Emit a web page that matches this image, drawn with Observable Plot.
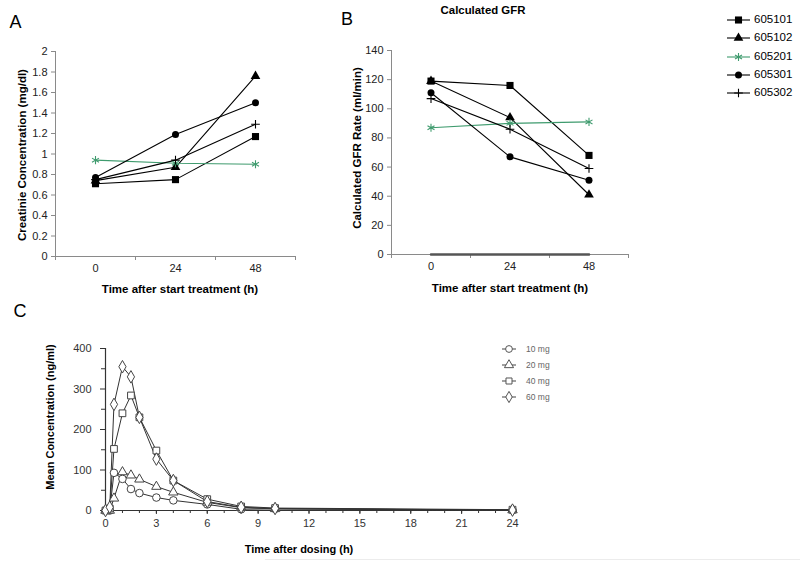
<!DOCTYPE html>
<html><head><meta charset="utf-8">
<script src="https://cdn.jsdelivr.net/npm/d3@7"></script>
<script src="https://cdn.jsdelivr.net/npm/@observablehq/plot@0.6"></script>
<style>
body{margin:0;background:#fff;font-family:"Liberation Sans",Arial,sans-serif;}
#root{position:relative;width:800px;height:561px;overflow:hidden;background:#fff;}
</style></head><body><div id="root"></div>
<script>
// ---------- DATA ----------
const hours = [0, 24, 48];
const patients = ["605101", "605102", "605201", "605301", "605302"];
const creat605101 = [0.71, 0.75, 1.17];
const creat605102 = [0.74, 0.87, 1.76];
const creat605201 = [0.94, 0.91, 0.90];
const creat605301 = [0.77, 1.19, 1.50];
const creat605302 = [0.75, 0.94, 1.29];
const gfr605101 = [119, 116, 68];
const gfr605102 = [119, 94, 41];
const gfr605201 = [87, 90, 91];
const gfr605301 = [111, 67, 51];
const gfr605302 = [107, 86, 59];
const gfrZeroLine = [0, 0, 0];
const creatTicks = [0, 0.2, 0.4, 0.6, 0.8, 1, 1.2, 1.4, 1.6, 1.8, 2];
const gfrTicks = [0, 20, 40, 60, 80, 100, 120, 140];

const doses = ["10 mg", "20 mg", "40 mg", "60 mg"];
const pkTimes = [0, 0.25, 0.5, 1, 1.5, 2, 3, 4, 6, 8, 10, 24];
const conc10 = [0, 0, 93, 78, 53, 43, 32, 25, 15, 3, 4, 1];
const conc20 = [0, 0, 30, 95, 87, 77, 59, 45, 20, 7, 4, 1];
const conc40 = [0, 5, 152, 240, 284, 230, 148, 74, 28, 10, 6, 2];
const conc60 = [0, 8, 262, 355, 330, 230, 127, 74, 22, 8, 5, 1];
const pkTimeTicks = [0, 3, 6, 9, 12, 15, 18, 21, 24];
const pkMinorTicks = d3.range(0, 25, 1);
const concTicks = [0, 100, 200, 300, 400];
const concMinorTicks = [50, 150, 250, 350];

// ---------- STYLE ----------
const GREEN = "#3f9b6e";
const AXIS = "#8a8a8a";
const FONT = "Liberation Sans, Arial, sans-serif";
const patientStyle = {
  "605101": {symbol: "square", r: 4, fill: "#000", stroke: "none", line: "#000"},
  "605102": {symbol: "triangle", r: 3.6, fill: "#000", stroke: "none", line: "#000"},
  "605201": {symbol: "asterisk", r: 3.8, fill: "none", stroke: GREEN, line: GREEN},
  "605301": {symbol: "circle", r: 3.5, fill: "#000", stroke: "none", line: "#000"},
  "605302": {symbol: "plus", r: 2.9, fill: "none", stroke: "#000", line: "#000"}
};
const doseStyle = {"10 mg": "circle", "20 mg": "triangle", "40 mg": "square", "60 mg": "diamond"};

const creatSeries = {"605101": creat605101, "605102": creat605102, "605201": creat605201, "605301": creat605301, "605302": creat605302};
const gfrSeries = {"605101": gfr605101, "605102": gfr605102, "605201": gfr605201, "605301": gfr605301, "605302": gfr605302};
const concSeries = {"10 mg": conc10, "20 mg": conc20, "40 mg": conc40, "60 mg": conc60};

const root = document.getElementById("root");
function place(el, left, top) {
  el.style.position = "absolute";
  el.style.left = left + "px";
  el.style.top = top + "px";
  root.appendChild(el);
}
function addText(txt, cx, cy, o = {}) {
  const d = document.createElement("div");
  d.textContent = txt;
  const size = o.size || 11.5, weight = o.weight || "bold", color = o.color || "#000";
  const tx = o.anchor === "start" ? "0" : "-50%";
  d.style.cssText = `position:absolute;left:${cx}px;top:${cy}px;font-family:${FONT};font-size:${size}px;font-weight:${weight};color:${color};white-space:nowrap;line-height:1;transform:translate(${tx},-50%)${o.rotate ? " rotate(-90deg)" : ""};`;
  root.appendChild(d);
}

function patientPanel(seriesMap, yDomain, yTicks, yFormat, extra, dims) {
  const marks = [];
  marks.push(Plot.ruleX([-12], {stroke: AXIS}));
  marks.push(Plot.ruleY([0], {stroke: AXIS}));
  marks.push(Plot.axisY({ticks: yTicks, tickSize: 4, tickPadding: 4, tickFormat: yFormat, stroke: AXIS, fill: "#222", label: null}));
  marks.push(Plot.axisX({ticks: [-12, 12, 36, 60], tickSize: 4, tickFormat: () => "", stroke: AXIS, label: null}));
  marks.push(Plot.axisX({ticks: hours, tickSize: 0, tickPadding: 8, tickFormat: d => String(d), fill: "#222", label: null}));
  if (extra) marks.push(...extra);
  for (const p of patients) {
    const rows = hours.map((h, i) => ({h, v: seriesMap[p][i]}));
    const s = patientStyle[p];
    marks.push(Plot.line(rows, {x: "h", y: "v", stroke: s.line, strokeWidth: 1.1}));
  }
  for (const p of patients) {
    const rows = hours.map((h, i) => ({h, v: seriesMap[p][i]}));
    const s = patientStyle[p];
    marks.push(Plot.dot(rows, {x: "h", y: "v", symbol: s.symbol, r: s.r, fill: s.fill, stroke: s.stroke, strokeWidth: 1.1}));
  }
  return Plot.plot({
    width: dims.width, height: dims.height,
    marginLeft: dims.ml, marginRight: dims.mr, marginTop: dims.mt, marginBottom: dims.mb,
    style: {fontFamily: FONT, fontSize: "11px", background: "transparent", overflow: "visible"},
    x: {domain: [-12, 60], axis: null},
    y: {domain: yDomain, axis: null},
    marks
  });
}

// Panel A
const svgA = patientPanel(creatSeries, [0, 2], creatTicks, d => String(+d.toFixed(1)), null,
  {width: 310, height: 300, ml: 55, mr: 15, mt: 51, mb: 44});
place(svgA, 0, 0);

// Panel B
const zeroRows = hours.map((h, i) => ({h, v: gfrZeroLine[i]}));
const svgB = patientPanel(gfrSeries, [0, 140], gfrTicks, d => String(d),
  [Plot.line(zeroRows, {x: "h", y: "v", stroke: "#555", strokeWidth: 2.5})],
  {width: 320, height: 300, ml: 61, mr: 22, mt: 50, mb: 46});
place(svgB, 330, 0);

// Panel C
const cMarks = [
  Plot.ruleX([0], {stroke: "#333", strokeWidth: 1.2}),
  Plot.ruleY([0], {stroke: "#333", strokeWidth: 1.2}),
  Plot.axisX({ticks: pkMinorTicks, tickSize: 3, tickFormat: () => "", stroke: "#333", label: null}),
  Plot.axisX({ticks: pkTimeTicks, tickSize: 4, tickPadding: 5, tickFormat: d => String(d), stroke: "#333", fill: "#333", label: null}),
  Plot.axisY({ticks: concMinorTicks, tickSize: 4, tickFormat: () => "", stroke: "#333", label: null}),
  Plot.axisY({ticks: concTicks, tickSize: 5, tickPadding: 9, tickFormat: d => String(d), stroke: "#333", fill: "#333", label: null})
];
for (const d of doses) {
  const rows = pkTimes.map((t, i) => ({t, v: concSeries[d][i]}));
  cMarks.push(Plot.line(rows, {x: "t", y: "v", stroke: "#333", strokeWidth: 1}));
}
for (const d of doses) {
  const rows = pkTimes.map((t, i) => ({t, v: concSeries[d][i]}));
  cMarks.push(Plot.dot(rows, {x: "t", y: "v", symbol: doseStyle[d], r: doseStyle[d] === "triangle" ? 3.5 : 3.8, fill: "#fff", stroke: "#444", strokeWidth: 1}));
}
const svgC = Plot.plot({
  width: 540, height: 251, marginLeft: 105, marginRight: 28, marginTop: 38, marginBottom: 51,
  style: {fontFamily: FONT, fontSize: "11px", background: "transparent", overflow: "visible"},
  x: {domain: [0, 24], axis: null},
  y: {domain: [0, 400], axis: null},
  marks: cMarks
});
place(svgC, 0, 310);

// ---------- TEXT ----------
addText("A", 15.5, 21.5, {size: 18, weight: "normal"});
addText("B", 347, 19, {size: 18, weight: "normal"});
addText("C", 20, 311, {size: 18, weight: "normal"});
addText("Calculated GFR", 483, 11, {size: 11.4});
addText("Creatinie Concentration (mg/dl)", 23, 155, {rotate: true});
addText("Time after start treatment (h)", 180, 290);
addText("Calculated GFR Rate (ml/min)", 358, 148, {rotate: true});
addText("Time after start treatment (h)", 510, 289);
addText("Mean Concentration (ng/ml)", 50, 417, {size: 11, rotate: true});
addText("Time after dosing (h)", 299, 549, {size: 11});

// ---------- LEGENDS ----------
function legendItem(symbolName, r, fill, stroke, lineColor, x0, x1, cy, label, textX, fontSize, textColor, symStroke) {
  const svgNS = "http://www.w3.org/2000/svg";
  const svg = document.createElementNS(svgNS, "svg");
  const w = x1 - x0, h = 16;
  svg.setAttribute("width", w); svg.setAttribute("height", h);
  svg.style.overflow = "visible";
  const ln = document.createElementNS(svgNS, "line");
  ln.setAttribute("x1", 0); ln.setAttribute("x2", w); ln.setAttribute("y1", h / 2); ln.setAttribute("y2", h / 2);
  ln.setAttribute("stroke", lineColor); ln.setAttribute("stroke-width", 1.1);
  svg.appendChild(ln);
  const sym = {square: d3.symbolSquare, triangle: d3.symbolTriangle, asterisk: d3.symbolAsterisk, circle: d3.symbolCircle, plus: d3.symbolPlus, diamond: d3.symbolDiamond}[symbolName];
  const path = document.createElementNS(svgNS, "path");
  path.setAttribute("d", d3.symbol(sym, Math.PI * r * r)());
  path.setAttribute("transform", `translate(${w / 2},${h / 2})`);
  path.setAttribute("fill", fill); path.setAttribute("stroke", stroke);
  path.setAttribute("stroke-width", symStroke || 1.1);
  svg.appendChild(path);
  place(svg, x0, cy - h / 2);
  addText(label, textX, cy, {size: fontSize, weight: "normal", color: textColor, anchor: "start"});
}
const legendRowsY = [20, 38, 57, 75, 93];
patients.forEach((p, i) => {
  const s = patientStyle[p];
  legendItem(s.symbol, s.r, s.fill, s.stroke, s.line, 727, 750, legendRowsY[i], p, 754, 11.5, "#000");
});
const doseLegendY = [349, 365, 381, 397];
doses.forEach((d, i) => {
  legendItem(doseStyle[d], 3.4, "#fff", "#555", "#555", 502, 516, doseLegendY[i], d, 526, 8.5, "#666", 1);
});

// faint separator line at bottom
const sep = document.createElement("div");
sep.style.cssText = "width:535px;height:1px;background:#ececec;";
place(sep, 265, 559);
</script>
</body></html>
